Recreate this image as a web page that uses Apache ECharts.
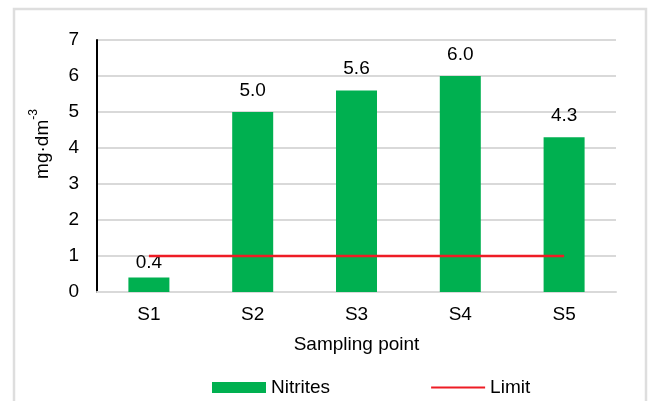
<!DOCTYPE html>
<html><head><meta charset="utf-8">
<script src="https://cdn.jsdelivr.net/npm/echarts@6/dist/echarts.min.js"></script>
<style>html,body{margin:0;padding:0;background:#fff}#c{width:649px;height:401px}</style>
</head><body><div id="c"></div>
<script>
const categories = ['S1','S2','S3','S4','S5'];
const nitrites = [0.4, 5.0, 5.6, 6.0, 4.3];
const limit = [1, 1, 1, 1, 1];
const yTicks = [0, 7, 1];

const font = 'Liberation Sans, Arial, sans-serif';
const fs = 19;
const chart = echarts.init(document.getElementById('c'));
chart.setOption({
  animation: false,
  textStyle: { fontFamily: font, color: '#000' },
  graphic: [{
    type: 'rect', shape: { x: 14, y: 9, width: 632, height: 410 },
    style: { fill: 'none', stroke: '#dedede', lineWidth: 2.5 }, silent: true
  }],
  grid: { left: 97, right: 33, top: 40, bottom: 109 },
  legend: {
    left: 207, top: 373, itemGap: 100, itemWidth: 54, itemHeight: 11,
    textStyle: { fontSize: fs, color: '#000', fontFamily: font },
    data: [{ name: 'Nitrites', icon: 'rect' }, { name: 'Limit', itemStyle: { opacity: 0 } }]
  },
  xAxis: {
    type: 'category', data: categories,
    axisLine: { lineStyle: { color: '#d9d9d9', width: 2 } },
    axisTick: { show: false },
    axisLabel: { fontSize: fs, color: '#000', margin: 13, fontFamily: font },
    name: 'Sampling point', nameLocation: 'middle', nameGap: 43,
    nameTextStyle: { fontSize: fs, color: '#000', fontFamily: font }
  },
  yAxis: {
    type: 'value', min: yTicks[0], max: yTicks[1], interval: yTicks[2],
    axisLine: { show: true, lineStyle: { color: '#000', width: 2 } },
    axisTick: { show: false },
    splitLine: { lineStyle: { color: '#d9d9d9', width: 2 } },
    axisLabel: { fontSize: fs, color: '#000', margin: 18, fontFamily: font },
    name: '{a|mg·dm}{s|-3}', nameLocation: 'middle', nameGap: 45, nameRotate: 90,
    nameTextStyle: {
      fontSize: fs, color: '#000', fontFamily: font, padding: [0, 0, 0, 44],
      rich: {
        a: { fontSize: fs, fontFamily: font, color: '#000', lineHeight: 24, verticalAlign: 'bottom' },
        s: { fontSize: 12, fontFamily: font, color: '#000', lineHeight: 24, verticalAlign: 'top' }
      }
    }
  },
  series: [{
    name: 'Nitrites', type: 'bar', barWidth: 41,
    itemStyle: { color: '#00b050' },
    label: {
      show: true, position: 'top', distance: 12, fontSize: fs, color: '#000', fontFamily: font,
      formatter: p => p.value.toFixed(1)
    },
    data: nitrites.map((v, i) => i === 0 ? { value: v, label: { distance: 5 } } : v),
    z: 2
  }, {
    name: 'Limit', type: 'line', data: limit, symbol: 'none',
    lineStyle: { color: '#ee1c25', width: 2.5 }, itemStyle: { color: '#ee1c25' }, z: 3
  }]
});
</script></body></html>
